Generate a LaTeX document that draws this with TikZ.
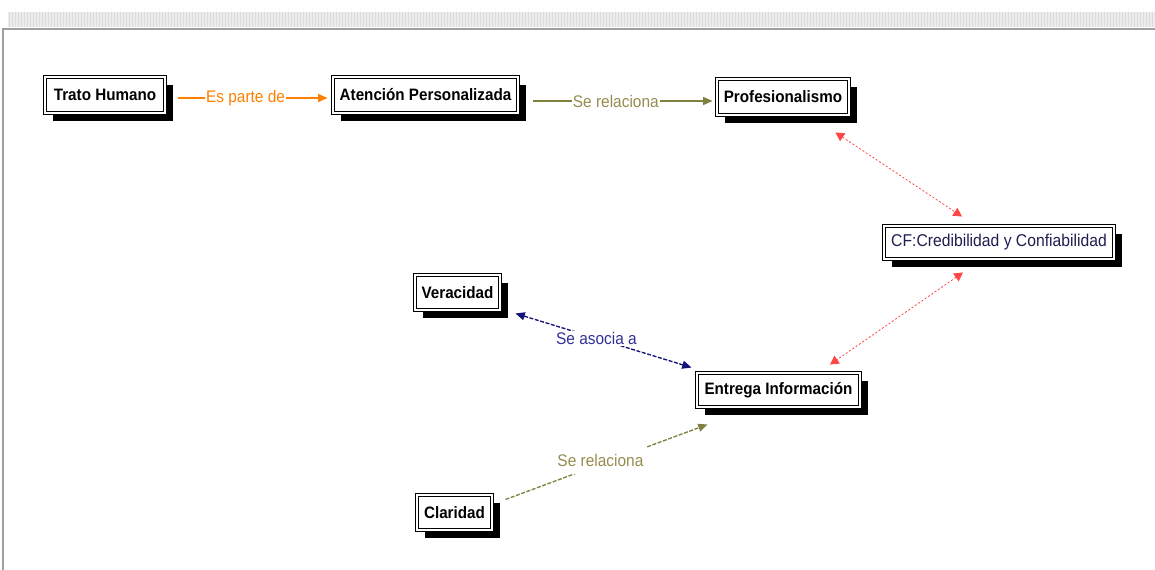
\documentclass[tikz,border=0pt]{standalone}
\usepackage{fontspec}
\setmainfont{Liberation Sans}
\newfontfamily\narrowsans[FakeStretch=0.92]{Liberation Sans}
\usetikzlibrary{arrows.meta,shadows,calc}
\definecolor{orangeA}{RGB}{255,128,0}
\definecolor{oliveA}{RGB}{128,128,64}
\definecolor{oliveT}{RGB}{150,140,80}
\definecolor{navyA}{RGB}{20,20,120}
\definecolor{navyT}{RGB}{50,50,150}
\definecolor{redA}{RGB}{255,70,70}
\definecolor{cftext}{RGB}{30,30,80}
\tikzset{
  ctip/.tip={Triangle[length=7pt,width=6pt]},
  rtip/.tip={Triangle[length=6.5pt,width=7pt]}
}
\begin{document}
\begin{tikzpicture}[x=0.75pt,y=-0.75pt,
  concept/.style={draw=black, double=white, double distance=1.1pt, line width=0.7pt,
    fill=white, general shadow={fill=black, shadow xshift=6pt, shadow yshift=-6pt},
    inner sep=0pt, font=\narrowsans\fontsize{12.4}{14}\selectfont\bfseries, align=center},
  conceptn/.style={concept, font=\narrowsans\fontsize{12.8}{14}\selectfont, text=cftext},
  lbl/.style={fill=white, inner sep=1pt, font=\narrowsans\fontsize{12.6}{14}\selectfont}
]
\useasboundingbox (0,0) rectangle (1155,570);
% frame
\fill[gray!15] (8,12) rectangle (1155,27);
\foreach \i in {9,12,...,1155} \draw[gray!28, line width=0.5pt] (\i,12) -- (\i,27);
\draw[gray!75, line width=1.4pt] (2,29) -- (1155,29);
\draw[gray!75, line width=1.4pt] (3,29) -- (3,570);

% nodes
\node[concept, minimum width={120*0.75pt}, minimum height={36*0.75pt}] (trato) at (105,95) {Trato Humano};
\node[concept, minimum width={185*0.75pt}, minimum height={36*0.75pt}] (aten) at (425.5,95) {Atención Personalizada};
\node[concept, minimum width={132*0.75pt}, minimum height={36*0.75pt}] (prof) at (783,97) {Profesionalismo};
\node[conceptn, minimum width={230*0.75pt}, minimum height={33*0.75pt}] (cf) at (999,242.5) {CF:Credibilidad y Confiabilidad};
\node[concept, minimum width={85*0.75pt}, minimum height={35*0.75pt}] (ver) at (457.5,292.5) {Veracidad};
\node[concept, minimum width={163*0.75pt}, minimum height={34*0.75pt}] (ent) at (778.5,390) {Entrega Información};
\node[concept, minimum width={75*0.75pt}, minimum height={35*0.75pt}] (clar) at (454.5,512.5) {Claridad};

% edges
\draw[orangeA, line width=1pt, -{ctip}] ($(trato.east)+(13,3)$) -- node[lbl, text=orangeA, pos=0.45] {Es parte de} ($(aten.west)+(-5,3)$);
\draw[oliveA, line width=1pt, -{ctip}] ($(aten.east)+(15,6)$) -- node[lbl, text=oliveT, pos=0.46] {Se relaciona} ($(prof.west)+(-4,4)$);
\draw[redA, line width=0.6pt, dash pattern=on 1.5pt off 1.5pt, {rtip}-{rtip}] ($(prof.south east)+(-14,17)$) -- ($(cf.north)+(-37,-9)$);
\draw[redA, line width=0.6pt, dash pattern=on 1.5pt off 1.5pt, {rtip}-{rtip}] ($(cf.south)+(-36,13)$) -- ($(ent.north)+(51.5,-8)$);
\draw[navyA, line width=1pt, dash pattern=on 3pt off 1.2pt, {ctip}-{ctip}] ($(ver.south east)+(15,3)$) -- node[lbl, text=navyT, pos=0.46] {Se asocia a} ($(ent.north west)+(-5,-5)$);
\draw[oliveA, line width=1pt, dash pattern=on 3pt off 1.2pt, -{ctip}] ($(clar.east)+(13,-13)$) -- node[lbl, text=oliveT, pos=0.47, yshift=3pt, inner xsep=3pt, inner ysep=6pt] {Se relaciona} ($(ent.south west)+(11,17)$);
\end{tikzpicture}
\end{document}
